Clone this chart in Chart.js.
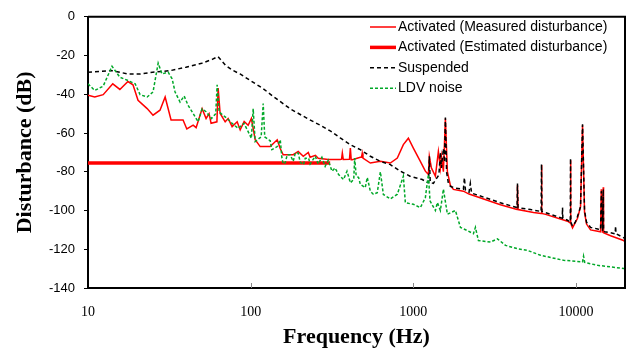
<!DOCTYPE html>
<html>
<head>
<meta charset="utf-8">
<script src="https://cdn.jsdelivr.net/npm/chart.js@4"></script>
<style>
  html, body { margin: 0; padding: 0; background: #fff; }
  #wrap { width: 628px; height: 349px; }
</style>
</head>
<body>
<div id="wrap"><canvas id="myChart" width="628" height="349"></canvas></div>
<script>
// values (Hz, dB)
const measuredHz = [10, 11, 12.4, 14.2, 15.7, 17.6, 18.9, 20.3, 23.1, 25.1, 27.7, 29.8, 32.4, 38.4, 40.5, 44.3, 46.2, 50.3, 53.2, 55.5, 57.1, 62, 63.1, 64.9, 69.7, 72.7, 76.9, 82.6, 86.2, 91.2, 96.5, 101, 106.6, 114.4, 131.8, 145.6, 151.9, 158.5, 182.6, 196, 210.5, 226, 232, 250, 260, 300, 355, 362, 366, 371, 405, 410, 415, 421, 472, 480, 485, 490, 544, 627, 722, 797, 868, 932, 1000, 1104, 1185, 1237, 1254, 1291, 1366, 1425, 1466, 1487, 1530, 1574, 1619, 1689, 1763, 2031, 2200, 3430, 4340, 4365, 4400, 5478, 6100, 6134, 6170, 6500, 8867, 9220, 9252, 9290, 9517, 10214, 10659, 10965, 11280, 11600, 12281, 14153, 14300, 14559, 14700, 14766, 16311, 19602, 20000];
const measuredDb = [-40.5, -41.4, -40.2, -34.6, -37.5, -33.4, -35.1, -43.1, -47.4, -50.8, -48.2, -41.4, -53.3, -53.3, -57.9, -55.9, -57.2, -47.4, -52.5, -50, -55, -54.2, -36.8, -49.9, -54.2, -52.5, -56.7, -54.2, -58.4, -54, -56, -52.5, -63.5, -67, -67, -63.5, -68, -71.2, -71.2, -69.5, -72, -70, -72.5, -71.5, -73, -73.7, -73.7, -73.5, -70.3, -73.7, -73.5, -67.8, -73.8, -73.8, -72.5, -72.5, -70.5, -73, -75.5, -74.6, -75.5, -72.9, -66, -62.7, -67.8, -74.6, -79.7, -81.4, -72, -78, -82.3, -69.5, -78, -72, -80, -52.5, -80, -87, -89.1, -90, -91.5, -97, -99.5, -87, -99.5, -101, -101.5, -76.5, -101.5, -102, -105.5, -106.5, -74, -106.5, -109, -104, -98, -56, -101, -107, -110, -111, -89, -111.5, -88, -111.5, -113, -115.5, -116];

const estimatedHz = [10, 308];
const estimatedDb = [-75.5, -75.5];

const suspendedHz = [10, 14, 17.6, 21, 25, 32, 40, 50, 58, 63, 70, 77, 86, 100, 119, 137, 175, 223, 268, 310, 355, 410, 472, 544, 627, 722, 832, 955, 1134, 1220, 1240, 1254, 1270, 1328, 1425, 1440, 1466, 1487, 1530, 1555, 1574, 1600, 1642, 1690, 1814, 2031, 2060, 2090, 2200, 2240, 2280, 3430, 4340, 4365, 4400, 5248, 6100, 6134, 6170, 8230, 8260, 8300, 8867, 9220, 9252, 9290, 9517, 9900, 10214, 10659, 10965, 11280, 11600, 12281, 13563, 14153, 14300, 14559, 14700, 14766, 15000, 16311, 17400, 17506, 17600, 19602, 20000];
const suspendedDb = [-28.6, -27.8, -29.5, -29.5, -28.6, -27.8, -26, -24, -22, -20.5, -25, -27.5, -29.5, -33, -37, -41, -47.5, -52.5, -56, -59, -62.5, -66, -68.6, -72, -74.6, -76.3, -79.7, -82.3, -84, -85.5, -85.5, -72, -85.5, -86, -82, -80, -70, -78, -68, -75, -52, -80, -86, -87.5, -88.5, -89, -83, -89.5, -90.5, -86, -91, -96, -98.5, -86, -98.5, -99.5, -100.5, -76, -100.5, -104, -98.5, -104, -105, -106, -73, -106, -108, -106, -103, -98, -55.5, -100, -106, -108.7, -109.5, -110, -90, -110.5, -89, -110.5, -111, -111.5, -112, -108, -112, -114, -114.5];

const noiseHz = [10, 11, 12.4, 14.05, 15.7, 17.6, 19.5, 20.9, 23.1, 25.1, 27, 28.5, 31.1, 32.9, 34.3, 36.8, 39, 41.2, 44.3, 47.5, 50.3, 53.2, 57.5, 61, 62.2, 64, 65.8, 71.7, 76.9, 83.8, 91, 96.5, 101, 103.6, 106.6, 116, 119.4, 122, 131.8, 135, 145.6, 152, 155.6, 158.5, 163, 167.8, 175, 182.6, 188, 196, 201.6, 211, 216.5, 227, 232, 249.5, 260, 274, 287, 300, 316, 330, 347, 372, 391, 410, 430, 436, 445, 461, 472, 506, 521, 544, 567, 600, 627, 654, 722, 797, 868, 893, 1000, 1104, 1185, 1237, 1266, 1366, 1405, 1466, 1530, 1619, 1814, 1947, 2149, 2340, 2407, 2512, 2978, 3288, 3684, 4365, 5029, 6047, 8377, 10965, 11124, 11300, 13563, 19602, 20000];
const noiseDb = [-34.6, -38, -35.8, -25.5, -31.2, -32.9, -34.6, -40.2, -41.4, -38.8, -23.9, -29.5, -28.6, -32, -38.8, -44, -40.9, -45.6, -49.9, -54.2, -47.5, -49, -52.5, -50, -35.1, -49, -50, -52.5, -55, -57.6, -55, -59.3, -62.7, -47.5, -64.4, -62, -44.8, -62, -64, -68.6, -67, -63.5, -72.9, -76, -75.4, -71.2, -71.2, -74.6, -70.3, -70.3, -75, -76.3, -73, -73, -76, -72, -76, -72.5, -77.2, -74, -79.7, -78, -81.4, -84, -79.7, -85.7, -84, -72.9, -82, -83, -86.5, -88.2, -83, -90, -91.6, -90.8, -80, -91.7, -94, -91.6, -82.3, -96, -96.8, -98.5, -93.4, -81.4, -95, -100, -95.9, -100, -89, -101.9, -100, -108.7, -110.4, -112, -108.7, -115.5, -116.3, -114.6, -118, -119.7, -120.6, -123.1, -125.7, -126.5, -123.6, -126.8, -128.3, -129.9, -130];

const seriesNames = ['Activated (Measured disturbance)', 'Activated (Estimated disturbance)', 'Suspended', 'LDV noise'];
const xTickValues = [10, 100, 1000, 10000];

function pts(hz, db) {
  return hz.map((f, i) => ({x: f, y: db[i]}));
}

// frame, inward x ticks and the legend inside the plot
const boxLegend = {
  id: 'boxLegend',
  afterDraw(chart) {
    const c = chart.ctx;
    const a = chart.chartArea;
    c.save();
    c.strokeStyle = '#000';
    c.lineWidth = 2;
    c.beginPath();
    c.moveTo(a.left, a.top);
    c.lineTo(a.right, a.top);
    c.lineTo(a.right, a.bottom);
    c.stroke();
    const xs = chart.scales.x;
    c.lineWidth = 1;
    c.strokeStyle = '#888';
    xTickValues.slice(1).forEach(v => {
      const px = Math.round(xs.getPixelForValue(v)) + 0.5;
      c.beginPath();
      c.moveTo(px, a.bottom);
      c.lineTo(px, a.bottom - 5);
      c.stroke();
    });
    c.font = '14px "Liberation Sans", Arial, sans-serif';
    c.textBaseline = 'middle';
    c.fillStyle = '#000';
    chart.data.datasets.forEach((ds, i) => {
      const y = 27 + i * 20.4;
      c.strokeStyle = ds.borderColor;
      c.lineWidth = ds.borderWidth;
      c.setLineDash(ds.borderDash || []);
      c.beginPath();
      c.moveTo(370, y);
      c.lineTo(396, y);
      c.stroke();
      c.setLineDash([]);
      c.fillText(ds.label, 398, y);
    });
    c.restore();
  }
};

const ctx = document.getElementById('myChart');

new Chart(ctx, {
  type: 'line',
  data: {
    datasets: [{
      label: seriesNames[0],
      data: pts(measuredHz, measuredDb),
      borderColor: 'rgb(255, 0, 0)',
      borderWidth: 1.5,
      order: 2
    }, {
      label: seriesNames[1],
      data: pts(estimatedHz, estimatedDb),
      borderColor: 'rgb(255, 0, 0)',
      borderWidth: 3.5,
      order: 3
    }, {
      label: seriesNames[2],
      data: pts(suspendedHz, suspendedDb),
      borderColor: '#000',
      borderWidth: 1.5,
      borderDash: [4, 3],
      order: 1
    }, {
      label: seriesNames[3],
      data: pts(noiseHz, noiseDb),
      borderColor: 'rgb(0, 168, 40)',
      borderWidth: 1.5,
      borderDash: [3, 2],
      order: 0
    }]
  },
  options: {
    responsive: false,
    animation: false,
    events: [],
    layout: { padding: { top: 14, right: 3, left: 0, bottom: 0 } },
    elements: { point: { radius: 0 }, line: { tension: 0, fill: false } },
    plugins: { legend: { display: false }, tooltip: { enabled: false } },
    scales: {
      x: {
        type: 'logarithmic',
        min: 10,
        max: 20000,
        afterFit: s => { s.height = 61; },
        afterBuildTicks: s => { s.ticks = xTickValues.map(v => ({value: v})); },
        grid: { display: true, drawOnChartArea: false, drawTicks: false },
        border: { display: true, color: '#000', width: 2 },
        ticks: {
          padding: 16,
          color: '#000',
          maxRotation: 0,
          autoSkip: false,
          font: { family: '"Liberation Serif", "Times New Roman", serif', size: 14 },
          callback: v => String(v)
        },
        title: {
          display: true,
          text: 'Frequency (Hz)',
          color: '#000',
          padding: { top: 0, bottom: 0 },
          font: { family: '"Liberation Serif", "Times New Roman", serif', size: 22, weight: 'bold', lineHeight: 1.1 }
        }
      },
      y: {
        min: -140,
        max: 0,
        afterFit: s => { s.width = 88; },
        grid: { drawOnChartArea: false, tickLength: 4, color: '#000' },
        border: { display: true, color: '#000', width: 2 },
        ticks: {
          stepSize: 20,
          padding: 9,
          color: '#000',
          font: { family: '"Liberation Sans", Arial, sans-serif', size: 13 }
        },
        title: {
          display: true,
          text: 'Disturbance (dB)',
          color: '#000',
          padding: { top: 12, bottom: 0 },
          font: { family: '"Liberation Serif", "Times New Roman", serif', size: 22, weight: 'bold' }
        }
      }
    }
  },
  plugins: [boxLegend]
});
</script>
</body>
</html>
